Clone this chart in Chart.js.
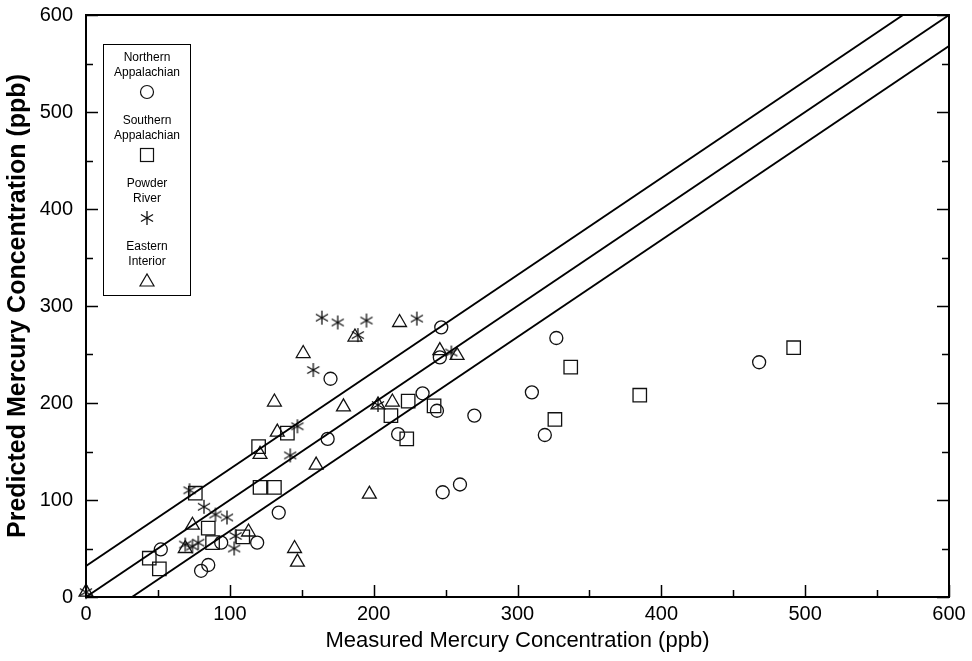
<!DOCTYPE html>
<html>
<head>
<meta charset="utf-8">
<script src="https://cdn.jsdelivr.net/npm/chart.js"></script>
<style>
  html, body { margin: 0; padding: 0; background: #fff; }
  #wrap { width: 972px; height: 661px; }
</style>
</head>
<body>
<div id="wrap"><canvas id="mercury" width="972" height="661"></canvas></div>
<script>
// values: [measured, predicted] in ppb
const northernAppalachian = [
  [247, 278], [246, 247], [170, 225], [234, 210], [244, 192], [168, 163], [217, 168],
  [134, 87], [119, 56], [94, 56], [52, 49], [80, 27], [85, 33], [248, 108], [260, 116],
  [270, 187], [327, 267], [310, 211], [319, 167], [468, 242]
];
const southernAppalachian = [
  [120, 155], [76, 107], [121, 113], [131, 113], [85, 71], [109, 62], [88, 56], [44, 40],
  [51, 29], [140, 169], [212, 187], [224, 202], [242, 197], [223, 163], [337, 237],
  [385, 208], [326, 183], [492, 257]
];
const powderRiver = [
  [0, 5], [72, 110], [82, 93], [90, 85], [98, 82], [104, 63], [103, 50], [69, 54], [74, 52],
  [78, 56], [164, 288], [175, 283], [195, 285], [230, 287], [189, 270], [254, 252],
  [158, 234], [203, 198], [147, 176], [142, 146]
];
const easternInterior = [
  [0, 5], [131, 201], [133, 170], [121, 147], [74, 74], [113, 67], [69, 50], [145, 50],
  [147, 36], [218, 283], [187, 268], [151, 251], [246, 254], [258, 249], [179, 196],
  [203, 198], [213, 201], [160, 136], [197, 106]
];

// fit line and the band either side
const upperLine = [[0, 32], [568, 600]];
const fitLine = [[0, 0], [600, 600]];
const lowerLine = [[32, 0], [600, 568]];

const axisTicks = [0, 100, 200, 300, 400, 500, 600];
const minorTicks = [50, 150, 250, 350, 450, 550];

const legendNames = [
  ['Northern', 'Appalachian'],
  ['Southern', 'Appalachian'],
  ['Powder', 'River'],
  ['Eastern', 'Interior']
];

const ink = '#111';
const fontFamily = '"Liberation Sans", Arial, sans-serif';

function toXY(arr) {
  return arr.map(p => ({ x: p[0], y: p[1] }));
}

// six armed asterisk as a point image
function makeAsterisk(size) {
  const c = document.createElement('canvas');
  c.width = size; c.height = size;
  const g = c.getContext('2d');
  const m = size / 2, r = size / 2 - 1;
  g.strokeStyle = ink;
  g.lineWidth = 1.3;
  g.beginPath();
  [90, 30, 150].forEach(a => {
    const t = a * Math.PI / 180;
    g.moveTo(m - r * Math.cos(t), m - r * Math.sin(t));
    g.lineTo(m + r * Math.cos(t), m + r * Math.sin(t));
  });
  g.stroke();
  return c;
}
const asterisk = makeAsterisk(16);

function markerDataset(label, arr, style, radius) {
  return {
    type: 'scatter',
    label: label,
    data: toXY(arr),
    pointStyle: style,
    pointRadius: radius,
    pointHoverRadius: radius,
    pointBorderWidth: 1.3,
    borderColor: ink,
    backgroundColor: 'rgba(0,0,0,0)'
  };
}

function lineDataset(arr) {
  return {
    type: 'line',
    data: toXY(arr),
    borderColor: '#000',
    borderWidth: 2,
    pointRadius: 0,
    fill: false,
    tension: 0
  };
}

const axisFrame = {
  id: 'axisFrame',
  afterDraw(chart) {
    const ctx = chart.ctx;
    const a = chart.chartArea;
    const xs = chart.scales.x, ys = chart.scales.y;
    ctx.save();
    ctx.strokeStyle = '#000';
    ctx.lineWidth = 2;
    ctx.strokeRect(a.left, a.top, a.right - a.left, a.bottom - a.top);
    ctx.lineWidth = 1.5;
    ctx.beginPath();
    axisTicks.forEach(v => {
      const px = Math.round(xs.getPixelForValue(v)) + 0.5;
      ctx.moveTo(px, a.bottom); ctx.lineTo(px, a.bottom - 12);
      const py = Math.round(ys.getPixelForValue(v)) + 0.5;
      ctx.moveTo(a.left, py); ctx.lineTo(a.left + 12, py);
      ctx.moveTo(a.right, py); ctx.lineTo(a.right - 12, py);
    });
    minorTicks.forEach(v => {
      const px = Math.round(xs.getPixelForValue(v)) + 0.5;
      ctx.moveTo(px, a.bottom); ctx.lineTo(px, a.bottom - 7);
      const py = Math.round(ys.getPixelForValue(v)) + 0.5;
      ctx.moveTo(a.left, py); ctx.lineTo(a.left + 7, py);
      ctx.moveTo(a.right, py); ctx.lineTo(a.right - 7, py);
    });
    ctx.stroke();

    // legend box
    ctx.lineWidth = 1;
    ctx.strokeStyle = '#000';
    ctx.strokeRect(103.5, 44.5, 87, 251);
    ctx.fillStyle = '#000';
    ctx.font = '12px ' + fontFamily;
    ctx.textAlign = 'center';
    ctx.textBaseline = 'middle';
    const cx = 147;
    legendNames.forEach((lines, i) => {
      const y0 = 58 + i * 63;
      ctx.fillText(lines[0], cx, y0);
      ctx.fillText(lines[1], cx, y0 + 15);
      const my = y0 + 34;
      ctx.strokeStyle = ink;
      ctx.lineWidth = 1.2;
      ctx.beginPath();
      if (i === 0) {
        ctx.arc(cx, my, 6.5, 0, Math.PI * 2);
        ctx.stroke();
      } else if (i === 1) {
        ctx.strokeRect(cx - 6.5, my - 6.5, 13, 13);
      } else if (i === 2) {
        ctx.drawImage(asterisk, cx - 8, my - 8);
      } else {
        ctx.moveTo(cx - 7, my + 5);
        ctx.lineTo(cx + 7, my + 5);
        ctx.lineTo(cx, my - 7);
        ctx.closePath();
        ctx.stroke();
      }
    });
    ctx.restore();
  }
};

new Chart(document.getElementById('mercury'), {
  type: 'scatter',
  data: {
    datasets: [
      lineDataset(upperLine),
      lineDataset(fitLine),
      lineDataset(lowerLine),
      markerDataset('Northern Appalachian', northernAppalachian, 'circle', 6.5),
      markerDataset('Southern Appalachian', southernAppalachian, 'rect', 9.5),
      markerDataset('Powder River', powderRiver, asterisk, 8),
      markerDataset('Eastern Interior', easternInterior, 'triangle', 8)
    ]
  },
  options: {
    responsive: false,
    animation: false,
    clip: false,
    layout: { autoPadding: false, padding: { left: 0, top: 15, right: 23, bottom: 0 } },
    plugins: {
      legend: { display: false },
      tooltip: { enabled: false }
    },
    scales: {
      x: {
        type: 'linear',
        min: 0,
        max: 600,
        afterFit(s) { s.height = 64; s.paddingLeft = 0; s.paddingRight = 0; },
        afterBuildTicks(s) { s.ticks = axisTicks.map(v => ({ value: v })); },
        grid: { display: false, drawTicks: false },
        border: { display: false },
        ticks: {
          color: '#000',
          padding: 5,
          maxRotation: 0,
          font: { family: fontFamily, size: 20 }
        },
        title: {
          display: true,
          text: 'Measured Mercury Concentration (ppb)',
          color: '#000',
          padding: { top: 0, bottom: 7 },
          font: { family: fontFamily, size: 22 }
        }
      },
      y: {
        type: 'linear',
        min: 0,
        max: 600,
        afterFit(s) { s.width = 86; s.paddingTop = 0; s.paddingBottom = 0; },
        afterBuildTicks(s) { s.ticks = axisTicks.map(v => ({ value: v })); },
        grid: { display: false, drawTicks: false },
        border: { display: false },
        ticks: {
          color: '#000',
          padding: 13,
          font: { family: fontFamily, size: 20 }
        },
        title: {
          display: true,
          text: 'Predicted Mercury Concentration (ppb)',
          color: '#000',
          padding: { top: 3, bottom: 0 },
          font: { family: fontFamily, size: 25, weight: 'bold' }
        }
      }
    }
  },
  plugins: [axisFrame]
});
</script>
</body>
</html>
